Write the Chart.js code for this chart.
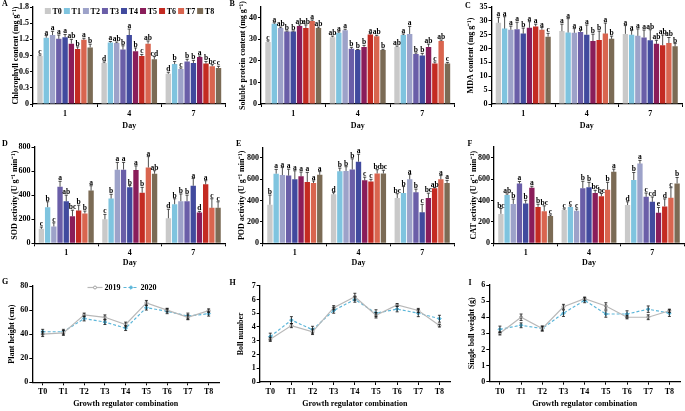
<!DOCTYPE html>
<html><head><meta charset="utf-8">
<script src="https://cdn.jsdelivr.net/npm/chart.js@4.4.0/dist/chart.umd.min.js"></script>
<style>
html,body{margin:0;padding:0;background:#fff;}
#wrap{position:relative;width:685px;height:411px;overflow:hidden;background:#fff;}
.tag{position:absolute;font:bold 8px "Liberation Serif","Times New Roman",serif;line-height:8px;color:#000;}
canvas{position:absolute;}
</style></head><body><div id="wrap"></div>
<script>
// ---------- categories ----------
const treatments = ['T0','T1','T2','T3','T4','T5','T6','T7','T8'];
const days = ['1','4','7'];
const years = ['2019','2020'];

// ---------- A: chlorophyll (per treatment: day1, day4, day7) ----------
const chlorophyll = [[0.89,0.76,0.56],[1.23,1.14,0.74],[1.28,1.13,0.65],[1.21,1.01,0.79],[1.24,1.28,0.76],[1.12,0.98,0.87],[1.02,0.89,0.75],[1.19,1.12,0.70],[1.05,0.83,0.67]];
const chlorophyllErr = [[0.02,0.02,0.03],[0.04,0.02,0.05],[0.07,0.02,0.02],[0.07,0.07,0.04],[0.05,0.11,0.05],[0.08,0.06,0.02],[0.04,0.03,0.04],[0.03,0.05,0.03],[0.06,0.05,0.03]];
const chlorophyllSig = [['c','d','d'],['a','a','b'],['a','ab','c'],['a','b','b'],['a','a','b'],['ab','b','a'],['b','c','b'],['a','ab','bc'],['b','cd','c']];
const chlorophyllTicks = [0,0.3,0.6,0.9,1.2,1.5,1.8];

// ---------- B: soluble protein ----------
const protein = [[28.8,31.0,26.5],[37.2,33.0,32.0],[35.2,34.2,32.5],[33.6,25.6,23.2],[33.6,25.0,22.5],[36.2,26.5,26.5],[35.2,32.2,18.8],[38.5,31.4,29.2],[35.2,25.0,18.8]];
const proteinErr = [[0.5,0.5,0.4],[0.5,0.5,0.5],[0.5,0.5,3.5],[0.3,0.7,0.5],[0.3,0.3,1.0],[0.5,0.7,1.3],[1.5,0.5,0.7],[0.5,0.5,0.5],[0.5,0.4,0.5]];
const proteinSig = [['c','ab','ab'],['a','a','a'],['ab','a','a'],['b','b','b'],['b','b','b'],['ab','b','ab'],['ab','a','c'],['a','ab','ab'],['ab','b','c']];
const proteinTicks = [0,5,10,15,20,25,30,35,40,45];

// ---------- C: MDA ----------
const mda = [[29.3,26.3,25.3],[27.2,25.8,25.0],[26.8,25.7,24.6],[27.0,26.0,24.0],[25.4,25.0,23.0],[27.5,22.7,21.7],[28.0,23.1,21.2],[26.8,25.4,22.0],[24.3,23.5,20.8]];
const mdaErr = [[2.0,2.5,3.0],[4.3,5.0,1.5],[1.3,1.5,2.5],[2.5,0.5,2.7],[2.0,3.5,3.8],[2.2,2.5,1.3],[0.8,3.2,3.7],[0.8,3.8,2.0],[1.2,1.0,1.0]];
const mdaSig = [['a','a','a'],['a','a','a'],['a','a','a'],['a','a','a'],['b','a','ab'],['a','b','ab'],['a','b','ab'],['a','a','ab'],['c','b','b']];
const mdaTicks = [0,5,10,15,20,25,30,35];

// ---------- D: SOD ----------
const sod = [[120,200,208],[300,372,325],[140,612,350],[470,612,350],[350,465,478],[225,608,255],[272,420,490],[248,630,295],[438,578,295]];
const sodErr = [[15,40,75],[45,35,45],[30,60,60],[45,60,50],[50,15,60],[50,35,10],[45,45,30],[20,90,75],[40,25,50]];
const sodSig = [['c','c','d'],['b','b','b'],['c','a','b'],['a','a','b'],['ab','b','a'],['bc','a','d'],['b','b','a'],['b','a','c'],['a','ab','c']];
const sodTicks = [0,100,200,300,400,500,600,700,800];

// ---------- E: POD ----------
const pod = [[362,460,425],[653,675,472],[640,678,600],[635,692,478],[600,765,290],[628,590,425],[575,580,515],[565,655,600],[642,655,565]];
const podErr = [[90,15,40],[40,30,60],[70,40,45],[60,100,30],[80,70,75],[40,30,45],[90,20,8],[20,35,35],[30,30,25]];
const podSig = [['b','d','bc'],['a','b','b'],['a','b','a'],['a','b','b'],['a','a','c'],['a','c','bc'],['a','c','ab'],['a','bc','a'],['a','bc','a']];
const podTicks = [0,100,200,300,400,500,600,700,800,900];

// ---------- F: CAT ----------
const cat = [[275,312,358],[452,340,592],[368,305,745],[558,515,435],[372,525,388],[518,470,285],[340,440,345],[300,500,425],[255,668,560]];
const catErr = [[50,10,30],[10,10,70],[45,15,30],[20,65,35],[30,45,45],[15,25,50],[25,25,70],[50,70,95],[10,25,55]];
const catSig = [['bc','c','d'],['ab','c','b'],['b','c','a'],['a','b','c'],['b','b','cd'],['a','bc','e'],['b','bc','d'],['bc','b','c'],['c','a','b']];
const catTicks = [0,100,200,300,400,500,600,700,800,900];

// ---------- G: plant height ----------
const height2019 = [40,41,56,54,48,66,60,54,59.5];
const height2019Err = [2,2,1.5,2,2,2,1.5,2,1.5];
const height2020 = [42,42,53,50,45,62,59,55,57];
const height2020Err = [2,2,2,2,2,2,2,2.5,2];
const heightTicks = [0,10,20,30,40,50,60,70,80];

// ---------- H: boll number ----------
const boll2019 = [3.1,4.1,3.65,5.4,6.2,4.85,5.6,5.2,4.1];
const boll2019Err = [0.15,0.15,0.2,0.15,0.25,0.2,0.1,0.15,0.1];
const boll2020 = [3.3,4.5,3.8,5.2,6.0,5.0,5.3,5.0,4.6];
const boll2020Err = [0.25,0.25,0.25,0.2,0.2,0.25,0.2,0.25,0.25];
const bollTicks = [0,1,2,3,4,5,6,7];

// ---------- I: single boll weight ----------
const weight2019 = [3.0,4.0,3.3,4.65,5.15,4.7,4.0,4.0,4.4];
const weight2019Err = [0.1,0.2,0.15,0.15,0.1,0.2,0.1,0.15,0.1];
const weight2020 = [3.25,3.5,3.3,4.25,5.05,4.2,4.2,4.5,4.25];
const weight2020Err = [0.2,0.15,0.15,0.2,0.15,0.2,0.2,0.2,0.2];
const weightTicks = [0,1,2,3,4,5,6];

// ---------- styles ----------
const FONT = '"Liberation Serif","Times New Roman",serif';
const barColors = ['#c9c9c9','#7fc4df','#9da2c9','#6a5ea8','#414a9e','#8a1d5a','#c42b22','#d9654f','#7b6b55'];
const wrap = document.getElementById('wrap');

const errorBars = {
  id: 'errorBars',
  afterDatasetsDraw(chart, args, o) {
    if (!o || !o.enabled) return;
    const ctx = chart.ctx, ys = chart.scales.y;
    ctx.save();
    chart.data.datasets.forEach((ds, di) => {
      const meta = chart.getDatasetMeta(di);
      meta.data.forEach((el, i) => {
        const v = ds.data[i], e = ds.errors[i];
        const x = el.x;
        const yv = ys.getPixelForValue(v), yt = ys.getPixelForValue(v + e);
        const yb = o.both ? ys.getPixelForValue(v - e) : yv;
        ctx.strokeStyle = o.color; ctx.lineWidth = o.width;
        ctx.beginPath();
        ctx.moveTo(x, yb); ctx.lineTo(x, yt);
        ctx.moveTo(x - o.cap, yt); ctx.lineTo(x + o.cap, yt);
        if (o.both) { ctx.moveTo(x - o.cap, yb); ctx.lineTo(x + o.cap, yb); }
        ctx.stroke();
        if (ds.letters) {
          ctx.fillStyle = '#000'; ctx.font = o.font;
          ctx.textAlign = 'center'; ctx.textBaseline = 'alphabetic';
          ctx.fillText(ds.letters[i], x, yt - 1);
        }
      });
    });
    ctx.restore();
  }
};

function marker(ctx, style, x, y, r, fill, stroke) {
  ctx.save(); ctx.fillStyle = fill; ctx.strokeStyle = stroke; ctx.lineWidth = 1; ctx.setLineDash([]);
  ctx.beginPath();
  if (style === 'rectRot') { ctx.moveTo(x, y - r); ctx.lineTo(x + r, y); ctx.lineTo(x, y + r); ctx.lineTo(x - r, y); ctx.closePath(); }
  else { ctx.arc(x, y, r, 0, Math.PI * 2); }
  ctx.fill(); ctx.stroke(); ctx.restore();
}

const keyPlugin = {
  id: 'key',
  afterDraw(chart, args, o) {
    if (!o || !o.enabled) return;
    const ctx = chart.ctx;
    ctx.save();
    ctx.font = o.font; ctx.textBaseline = 'middle'; ctx.textAlign = 'left';
    const items = chart.data.datasets;
    const ws = items.map(ds => o.sample + o.gap + ctx.measureText(ds.label).width);
    const total = ws.reduce((a, b) => a + b, 0) + o.spacing * (items.length - 1);
    let x = o.cx - total / 2; const y = o.cy;
    items.forEach((ds, i) => {
      if (o.kind === 'box') {
        ctx.fillStyle = ds.backgroundColor;
        ctx.fillRect(x, y - o.box / 2, o.sample, o.box);
      } else {
        ctx.strokeStyle = ds.borderColor; ctx.lineWidth = ds.borderWidth;
        ctx.setLineDash(ds.borderDash || []);
        ctx.beginPath(); ctx.moveTo(x, y); ctx.lineTo(x + o.sample, y); ctx.stroke();
        ctx.setLineDash([]);
        marker(ctx, ds.pointStyle, x + o.sample / 2, y, ds.pointRadius, ds.pointBackgroundColor, ds.pointBorderColor);
      }
      ctx.fillStyle = '#000';
      ctx.fillText(ds.label, x + o.sample + o.gap, y + 0.5);
      x += ws[i] + o.spacing;
    });
    ctx.restore();
  }
};

function tag(text, x, y) {
  const d = document.createElement('div');
  d.className = 'tag'; d.textContent = text;
  d.style.left = x + 'px'; d.style.top = y + 'px';
  wrap.appendChild(d);
}

function makePanel(p) {
  const {box, area} = p;
  const c = document.createElement('canvas');
  c.width = box.w; c.height = box.h;
  c.style.left = box.x + 'px'; c.style.top = box.y + 'px';
  c.style.width = box.w + 'px'; c.style.height = box.h + 'px';
  wrap.appendChild(c);
  const yFontSize = 8, xFontSize = 8;
  const lhY = yFontSize * 1.2, lhX = xFontSize * 1.2;
  const scaleLeft = p.yTitleCx - lhY / 2;
  const yw = area.L - scaleLeft;
  const xh = p.xTitleCy + lhX / 2 - area.B;
  const padding = {
    left: scaleLeft - box.x,
    top: area.T - box.y,
    right: box.x + box.w - area.R,
    bottom: box.y + box.h - area.B - xh
  };
  const tickFont = {family: FONT, size: 8, weight: 'bold'};
  const isBar = p.type === 'bar';
  const plugins = {
    legend: {display: false},
    tooltip: {enabled: false},
    errorBars: isBar
      ? {enabled: true, both: false, color: '#222', width: 0.8, cap: 1.6, font: 'bold 7.5px ' + FONT}
      : {enabled: true, both: true, color: '#111', width: 0.8, cap: 1.5, font: 'bold 7.5px ' + FONT},
    key: p.key ? Object.assign({enabled: true, font: 'bold 8px ' + FONT}, p.key, {cx: p.key.cx - box.x, cy: p.key.cy - box.y}) : {enabled: false}
  };
  new Chart(c, {
    type: p.type,
    data: {labels: p.labels, datasets: p.datasets},
    options: {
      responsive: false, animation: false, devicePixelRatio: 1,
      layout: {padding},
      datasets: {bar: {categoryPercentage: 0.88, barPercentage: 0.86}},
      plugins,
      scales: {
        x: {
          offset: true,
          afterFit: s => { s.height = xh; },
          border: {display: true, color: '#000', width: 1.3},
          grid: {display: true, drawOnChartArea: false, drawTicks: true, tickLength: 3, color: '#000', lineWidth: 1, offset: isBar},
          ticks: {font: tickFont, color: '#000', padding: 2, maxRotation: 0, autoSkip: false},
          title: {display: true, text: p.xTitle, font: tickFont, color: '#000', padding: 0}
        },
        y: {
          min: p.yTicks[0], max: p.yTicks[p.yTicks.length - 1],
          afterBuildTicks: s => { s.ticks = p.yTicks.map(v => ({value: v})); },
          afterFit: s => { s.width = yw; },
          border: {display: true, color: '#000', width: 1.3},
          grid: {display: true, drawOnChartArea: false, drawTicks: true, tickLength: 3, color: '#000', lineWidth: 1},
          ticks: {font: tickFont, color: '#000', padding: 1},
          title: {display: true, text: p.yTitle, font: {family: FONT, size: yFontSize, weight: 'bold'}, color: '#000', padding: 0}
        }
      }
    },
    plugins: [errorBars, keyPlugin]
  });
}

function barSets(vals, errs, sigs) {
  return treatments.map((t, i) => ({
    label: t, data: vals[i], errors: errs[i], letters: sigs[i],
    backgroundColor: barColors[i], borderWidth: 0
  }));
}
function lineSets(a, aErr, b, bErr) {
  return [
    {label: years[0], data: a, errors: aErr, borderColor: '#b8b8b8', backgroundColor: '#b8b8b8', borderWidth: 1.2,
     pointStyle: 'circle', pointRadius: 1.5, pointBackgroundColor: '#ffffff', pointBorderColor: '#a0a0a0', pointBorderWidth: 1, tension: 0},
    {label: years[1], data: b, errors: bErr, borderColor: '#5cb6d9', backgroundColor: '#5cb6d9', borderWidth: 1.2, borderDash: [3, 2],
     pointStyle: 'rectRot', pointRadius: 1.8, pointBackgroundColor: '#5cb6d9', pointBorderColor: '#5cb6d9', pointBorderWidth: 1, tension: 0}
  ];
}

const R1 = {y: 0, h: 135}, R2 = {y: 135, h: 135}, R3 = {y: 270, h: 141};
const C1 = {x: 0, w: 228}, C2 = {x: 228, w: 228}, C3 = {x: 456, w: 229};
const bx = (c, r) => ({x: c.x, y: r.y, w: c.w, h: r.h});

makePanel({type: 'bar', box: bx(C1, R1), area: {L: 33, T: 7, R: 225.5, B: 104}, yTitleCx: 16, xTitleCy: 126,
  labels: days, datasets: barSets(chlorophyll, chlorophyllErr, chlorophyllSig), yTicks: chlorophyllTicks,
  yTitle: 'Chlorophyll content (mg g⁻¹)', xTitle: 'Day',
  key: {kind: 'box', cx: 129.5, cy: 11, sample: 6, box: 6, gap: 1.7, spacing: 2}});
makePanel({type: 'bar', box: bx(C2, R1), area: {L: 261, T: 7, R: 454.5, B: 104}, yTitleCx: 243, xTitleCy: 126,
  labels: days, datasets: barSets(protein, proteinErr, proteinSig), yTicks: proteinTicks,
  yTitle: 'Soluble protein content (mg g⁻¹)', xTitle: 'Day'});
makePanel({type: 'bar', box: bx(C3, R1), area: {L: 491.5, T: 7, R: 682, B: 104}, yTitleCx: 471, xTitleCy: 126,
  labels: days, datasets: barSets(mda, mdaErr, mdaSig), yTicks: mdaTicks,
  yTitle: 'MDA content (mg g⁻¹)', xTitle: 'Day'});

makePanel({type: 'bar', box: bx(C1, R2), area: {L: 34.5, T: 147, R: 225, B: 243.3}, yTitleCx: 15, xTitleCy: 263.3,
  labels: days, datasets: barSets(sod, sodErr, sodSig), yTicks: sodTicks,
  yTitle: 'SOD activity (U g⁻¹ min⁻¹)', xTitle: 'Day'});
makePanel({type: 'bar', box: bx(C2, R2), area: {L: 263, T: 147.3, R: 454, B: 243.3}, yTitleCx: 242, xTitleCy: 263.3,
  labels: days, datasets: barSets(pod, podErr, podSig), yTicks: podTicks,
  yTitle: 'POD activity (U g⁻¹ min⁻¹)', xTitle: 'Day'});
makePanel({type: 'bar', box: bx(C3, R2), area: {L: 494, T: 147, R: 684, B: 243.3}, yTitleCx: 474, xTitleCy: 263.3,
  labels: days, datasets: barSets(cat, catErr, catSig), yTicks: catTicks,
  yTitle: 'CAT activity (U g⁻¹ min⁻¹)', xTitle: 'Day'});

makePanel({type: 'line', box: bx(C1, R3), area: {L: 32.3, T: 286, R: 219, B: 382.3}, yTitleCx: 11.7, xTitleCy: 404,
  labels: treatments, datasets: lineSets(height2019, height2019Err, height2020, height2020Err), yTicks: heightTicks,
  yTitle: 'Plant height (cm)', xTitle: 'Growth regulator combination',
  key: {kind: 'line', cx: 122, cy: 287.5, sample: 15, gap: 2, spacing: 3}});
makePanel({type: 'line', box: bx(C2, R3), area: {L: 259.7, T: 285.7, R: 450, B: 382}, yTitleCx: 241, xTitleCy: 404,
  labels: treatments, datasets: lineSets(boll2019, boll2019Err, boll2020, boll2020Err), yTicks: bollTicks,
  yTitle: 'Boll number', xTitle: 'Growth regulator combination'});
makePanel({type: 'line', box: bx(C3, R3), area: {L: 489.3, T: 285, R: 680, B: 381.7}, yTitleCx: 472, xTitleCy: 404,
  labels: treatments, datasets: lineSets(weight2019, weight2019Err, weight2020, weight2020Err), yTicks: weightTicks,
  yTitle: 'Single boll weight (g)', xTitle: 'Growth regulator combination'});

tag('A', 2, 0); tag('B', 229.5, 0); tag('C', 465, 1.5);
tag('D', 2, 139.5); tag('E', 236, 139.5); tag('F', 467.5, 139.5);
tag('G', 2, 278); tag('H', 229.5, 279); tag('I', 468.5, 279);
</script>
</body></html>
